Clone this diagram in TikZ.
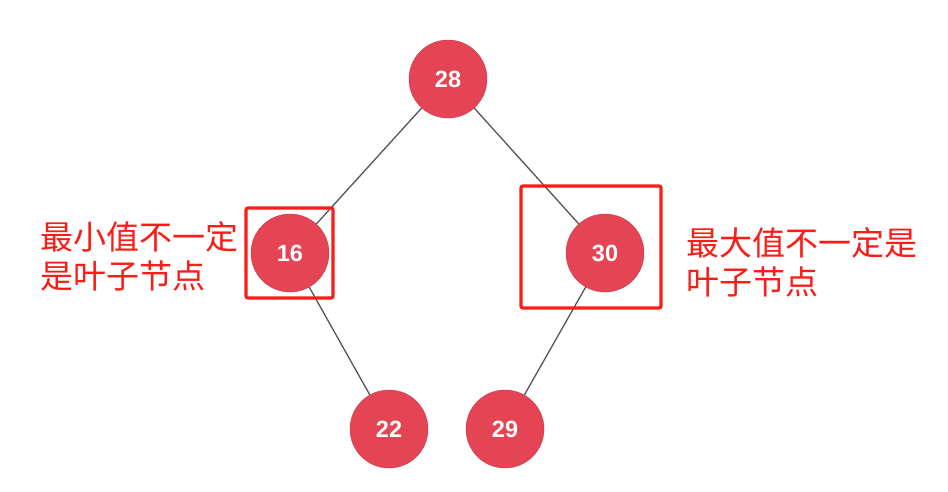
\documentclass[tikz,border=0pt]{standalone}
\usepackage{fontspec}
\setmainfont{Liberation Sans}
\newfontfamily\cjk{Noto Sans CJK SC}
\definecolor{nodered}{RGB}{229,68,84}
\definecolor{markred}{RGB}{250,28,22}
\definecolor{edgegray}{RGB}{85,85,85}
\begin{document}
\begin{tikzpicture}[x=1pt,y=-1pt,
  tnode/.style={circle,fill=nodered,draw=nodered!85!black,line width=0.4pt,minimum size=78pt,inner sep=0pt,text=white,font=\bfseries\fontsize{23.5}{23.5}\selectfont},
  tedge/.style={draw=edgegray,line width=1.3pt},
  markbox/.style={draw=markred,line width=3.2pt,rounded corners=2pt},
  note/.style={text=markred,anchor=west,inner sep=0pt,font=\cjk\fontsize{33}{33}\selectfont}]
\useasboundingbox[fill=white] (0,0) rectangle (948,491);
\node[tnode] (n28) at (448,79) {28};
\node[tnode] (n16) at (290,253) {16};
\node[tnode] (n30) at (605,253) {30};
\node[tnode] (n22) at (389,429) {22};
\node[tnode] (n29) at (505,429) {29};
\draw[tedge] (n28) -- (n16);
\draw[tedge] (n28) -- (n30);
\draw[tedge] (n16) -- (n22);
\draw[tedge] (n30) -- (n29);
\draw[markbox] (246,208) rectangle (333,298);
\draw[markbox] (521,186) rectangle (661,308);
\node[note] (l1) at (40,237) {最小值不一定};
\node[note] (l2) at (40,276) {是叶子节点};
\node[note] (r1) at (686,243) {最大值不一定是};
\node[note] (r2) at (686,282) {叶子节点};
\end{tikzpicture}
\end{document}
